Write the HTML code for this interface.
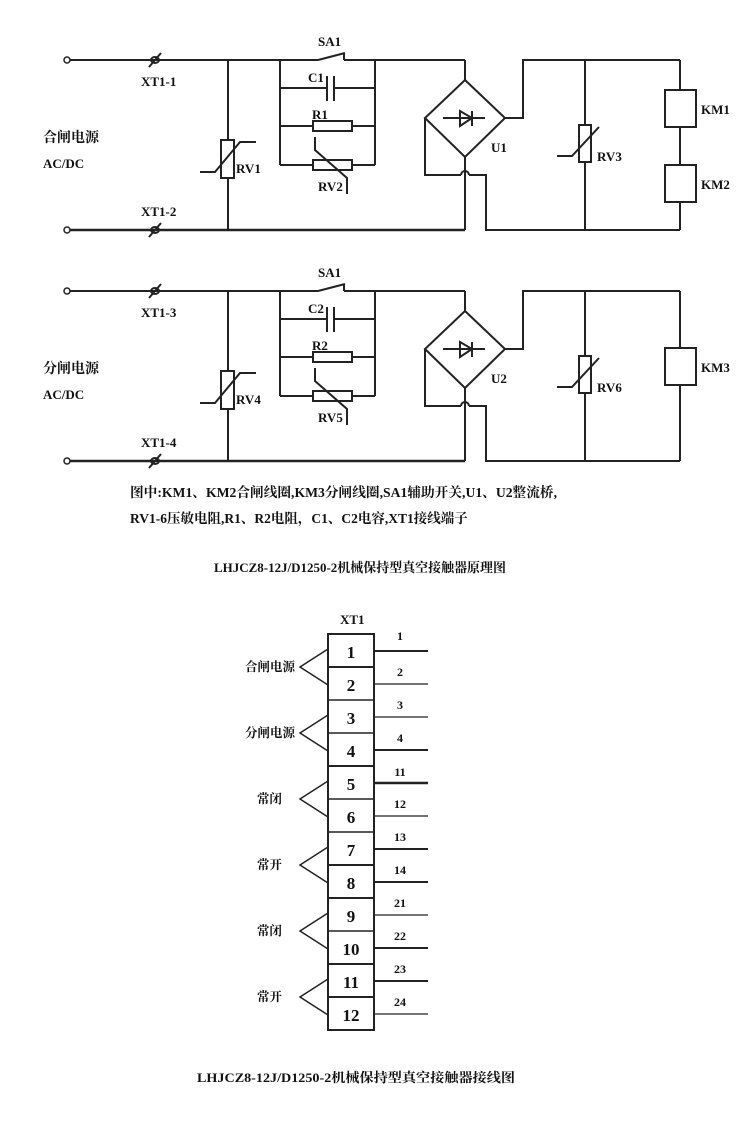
<!DOCTYPE html>
<html><head><meta charset="utf-8"><style>
html,body{margin:0;padding:0;background:#fff;}
svg{display:block;}
text{font-family:"Liberation Serif","Noto Serif CJK SC","Noto Sans CJK SC",serif;font-weight:bold;fill:#111;}
</style></head><body>
<svg width="746" height="1138" viewBox="0 0 746 1138" xmlns="http://www.w3.org/2000/svg">
<defs>
<g id="ckt" stroke="#222" stroke-width="2" fill="none">
  <circle cx="67" cy="60" r="3" stroke-width="1.5"/>
  <circle cx="67" cy="230" r="3" stroke-width="1.5"/>
  <line x1="70" y1="60" x2="318" y2="60"/>
  <line x1="318" y1="60" x2="345" y2="53"/>
  <line x1="344" y1="53" x2="344" y2="60"/>
  <line x1="344" y1="60" x2="465" y2="60"/>
  <line x1="70" y1="230" x2="465" y2="230" stroke-width="2.5"/>
  <ellipse cx="155" cy="60" rx="4" ry="3"/><line x1="149" y1="67" x2="161" y2="53"/>
  <ellipse cx="155" cy="230" rx="4" ry="3"/><line x1="149" y1="237" x2="161" y2="223"/>
  <line x1="228" y1="60" x2="228" y2="230"/>
  <rect x="221" y="140" width="13" height="38" fill="#fff"/>
  <polyline points="200,172 215,172 240,142 256,142"/>
  <line x1="280" y1="60" x2="280" y2="165"/>
  <line x1="375" y1="60" x2="375" y2="165"/>
  <line x1="280" y1="88" x2="327" y2="88"/><line x1="334" y1="88" x2="375" y2="88"/>
  <line x1="327" y1="76" x2="327" y2="101"/><line x1="334" y1="76" x2="334" y2="101"/>
  <line x1="280" y1="126" x2="313" y2="126"/><line x1="352" y1="126" x2="375" y2="126"/>
  <rect x="313" y="121" width="39" height="10"/>
  <line x1="280" y1="165" x2="313" y2="165"/><line x1="352" y1="165" x2="375" y2="165"/>
  <rect x="313" y="160" width="39" height="10"/>
  <polyline points="315,137 315,150 347,178 347,194"/>
  <line x1="465" y1="60" x2="465" y2="80"/>
  <polygon points="465,80 505,118 465,157 425,118"/>
  <line x1="443" y1="118" x2="485" y2="118"/>
  <polygon points="460,111 460,126 472,118"/>
  <line x1="472" y1="111" x2="472" y2="126"/>
  <polyline points="505,118 523,118 523,60 680,60"/>
  <line x1="465" y1="157" x2="465" y2="230"/>
  <polyline points="425,118 425,175 461,175"/>
  <path d="M461,175 A4,4 0 0 1 469,175"/>
  <polyline points="469,175 486,175 486,230 680,230" />
  <line x1="585" y1="60" x2="585" y2="230"/>
  <rect x="579" y="125" width="12" height="37" fill="#fff"/>
  <polyline points="557,156 572,156 599,127"/>
</g>
</defs>

<use href="#ckt"/>
<g stroke="#222" stroke-width="2" fill="none">
  <line x1="680" y1="60" x2="680" y2="90"/>
  <rect x="665" y="90" width="31" height="37"/>
  <line x1="680" y1="127" x2="680" y2="165"/>
  <rect x="665" y="165" width="31" height="37"/>
  <line x1="680" y1="202" x2="680" y2="230"/>
</g>
<g font-size="13">
<text x="318" y="46">SA1</text>
<text x="141" y="86">XT1-1</text>
<text x="141" y="216">XT1-2</text>
<text x="236" y="173">RV1</text>
<text x="308" y="82">C1</text>
<text x="312" y="119">R1</text>
<text x="318" y="191">RV2</text>
<text x="491" y="152">U1</text>
<text x="597" y="161">RV3</text>
<text x="701" y="114">KM1</text>
<text x="701" y="189">KM2</text>
<text x="43" y="142" font-size="14">合闸电源</text>
<text x="43" y="168">AC/DC</text>
</g>

<g transform="translate(0,231)">
<use href="#ckt"/>
<g stroke="#222" stroke-width="2" fill="none">
  <line x1="680" y1="60" x2="680" y2="117"/>
  <rect x="665" y="117" width="31" height="37"/>
  <line x1="680" y1="154" x2="680" y2="230"/>
</g>
<g font-size="13">
<text x="318" y="46">SA1</text>
<text x="141" y="86">XT1-3</text>
<text x="141" y="216">XT1-4</text>
<text x="236" y="173">RV4</text>
<text x="308" y="82">C2</text>
<text x="312" y="119">R2</text>
<text x="318" y="191">RV5</text>
<text x="491" y="152">U2</text>
<text x="597" y="161">RV6</text>
<text x="701" y="141">KM3</text>
<text x="43" y="142" font-size="14">分闸电源</text>
<text x="43" y="168">AC/DC</text>
</g>
</g>

<text x="130" y="497" font-size="13.5" textLength="427" lengthAdjust="spacingAndGlyphs">图中:KM1、KM2合闸线圈,KM3分闸线圈,SA1辅助开关,U1、U2整流桥,</text>
<text x="130" y="523" font-size="13.5">RV1-6压敏电阻,R1、R2电阻，C1、C2电容,XT1接线端子</text>
<text x="214" y="572" font-size="13" textLength="292" lengthAdjust="spacingAndGlyphs">LHJCZ8-12J/D1250-2机械保持型真空接触器原理图</text>

<text x="340" y="624" font-size="13">XT1</text>
<g stroke="#222" stroke-width="2" fill="none">
  <rect x="328" y="634" width="46" height="396"/>
  <line x1="328" y1="667" x2="374" y2="667"/>
  <line x1="328" y1="700" x2="374" y2="700" stroke-width="1.5"/>
  <line x1="328" y1="733" x2="374" y2="733" stroke-width="1.5"/>
  <line x1="328" y1="766" x2="374" y2="766"/>
  <line x1="328" y1="799" x2="374" y2="799" stroke-width="1.5"/>
  <line x1="328" y1="832" x2="374" y2="832" stroke-width="1.5"/>
  <line x1="328" y1="865" x2="374" y2="865"/>
  <line x1="328" y1="898" x2="374" y2="898"/>
  <line x1="328" y1="931" x2="374" y2="931" stroke-width="1.5"/>
  <line x1="328" y1="964" x2="374" y2="964"/>
  <line x1="328" y1="997" x2="374" y2="997"/>
  <line x1="374" y1="651" x2="428" y2="651"/>
  <line x1="374" y1="684" x2="428" y2="684" stroke-width="1.2"/>
  <line x1="374" y1="717" x2="428" y2="717" stroke-width="1.2"/>
  <line x1="374" y1="750" x2="428" y2="750"/>
  <line x1="374" y1="783" x2="428" y2="783" stroke-width="2.5"/>
  <line x1="374" y1="816" x2="428" y2="816" stroke-width="1.2"/>
  <line x1="374" y1="849" x2="428" y2="849"/>
  <line x1="374" y1="882" x2="428" y2="882"/>
  <line x1="374" y1="915" x2="428" y2="915" stroke-width="1.2"/>
  <line x1="374" y1="948" x2="428" y2="948"/>
  <line x1="374" y1="981" x2="428" y2="981"/>
  <line x1="374" y1="1014" x2="428" y2="1014" stroke-width="1.2"/>
  <polyline points="328,649 300,667 328,685" stroke-width="1.5"/>
  <polyline points="328,715 300,733 328,751" stroke-width="1.5"/>
  <polyline points="328,781 300,799 328,817" stroke-width="1.5"/>
  <polyline points="328,847 300,865 328,883" stroke-width="1.5"/>
  <polyline points="328,913 300,931 328,949" stroke-width="1.5"/>
  <polyline points="328,979 300,997 328,1015" stroke-width="1.5"/>
</g>
<g font-size="17" text-anchor="middle">
<text x="351" y="658">1</text><text x="351" y="691">2</text><text x="351" y="724">3</text>
<text x="351" y="757">4</text><text x="351" y="790">5</text><text x="351" y="823">6</text>
<text x="351" y="856">7</text><text x="351" y="889">8</text><text x="351" y="922">9</text>
<text x="351" y="955">10</text><text x="351" y="988">11</text><text x="351" y="1021">12</text>
</g>
<g font-size="12" text-anchor="middle">
<text x="400" y="640">1</text><text x="400" y="676">2</text><text x="400" y="709">3</text>
<text x="400" y="742">4</text><text x="400" y="776">11</text><text x="400" y="808">12</text>
<text x="400" y="841">13</text><text x="400" y="874">14</text><text x="400" y="907">21</text>
<text x="400" y="940">22</text><text x="400" y="973">23</text><text x="400" y="1006">24</text>
</g>
<g font-size="12.5">
<text x="245" y="671">合闸电源</text>
<text x="245" y="737">分闸电源</text>
<text x="257" y="803">常闭</text>
<text x="257" y="869">常开</text>
<text x="257" y="935">常闭</text>
<text x="257" y="1001">常开</text>
</g>
<text x="197" y="1082" font-size="13" textLength="318" lengthAdjust="spacingAndGlyphs">LHJCZ8-12J/D1250-2机械保持型真空接触器接线图</text>
</svg>
</body></html>
